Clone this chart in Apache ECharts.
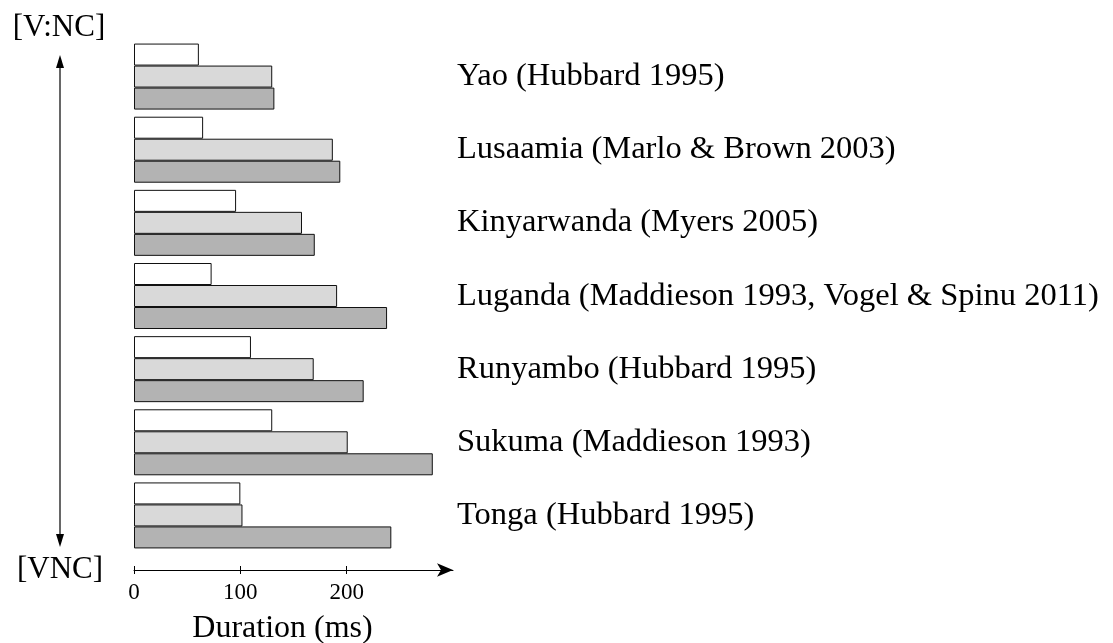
<!DOCTYPE html>
<html>
<head>
<meta charset="utf-8">
<script src="https://cdn.jsdelivr.net/npm/echarts@6/dist/echarts.min.js"></script>
<style>
  html, body { margin: 0; padding: 0; background: #fff; }
  #chart { width: 1113px; height: 643px; }
</style>
</head>
<body>
<div id="chart"></div>
<script>
const languages = [
  'Yao (Hubbard 1995)',
  'Lusaamia (Marlo & Brown 2003)',
  'Kinyarwanda (Myers 2005)',
  'Luganda (Maddieson 1993, Vogel & Spinu 2011)',
  'Runyambo (Hubbard 1995)',
  'Sukuma (Maddieson 1993)',
  'Tonga (Hubbard 1995)'
];
// durations in ms, three bars per language (top to bottom)
const shortBar = [61, 65, 96, 73, 110, 130, 100];
const midBar = [130, 187, 158, 191, 169, 201, 102];
const longBar = [132, 194, 170, 238, 216, 281, 242];
const tickValues = [0, 100, 200];

const font = "'Liberation Serif', 'Times New Roman', serif";

const myChart = echarts.init(document.getElementById('chart'));

function barSeries(name, data, color) {
  return {
    name: name,
    type: 'bar',
    data: data,
    barWidth: 22,
    barGap: '0%',
    itemStyle: { color: color, borderColor: '#111', borderWidth: 1 },
    silent: true
  };
}

const option = {
  backgroundColor: '#fff',
  animation: false,
  grid: { left: 134, right: 660, top: 40, height: 512, outerBoundsMode: 'none', containLabel: false },
  xAxis: [{
    type: 'value',
    min: 0,
    max: 300,
    interval: 100,
    offset: 18,
    splitLine: { show: false },
    axisLine: {
      show: true,
      lineStyle: { color: '#000', width: 1 },
      symbol: ['none', 'arrow'],
      symbolSize: [10, 16]
    },
    axisTick: { show: true, length: 4, customValues: tickValues, lineStyle: { color: '#000' } },
    axisLabel: {
      customValues: tickValues,
      color: '#000',
      fontFamily: font,
      fontSize: 23,
      margin: 11
    },
    name: 'Duration (ms)',
    nameLocation: 'middle',
    nameGap: 43,
    nameTextStyle: { color: '#000', fontFamily: font, fontSize: 32, padding: [0, 22, 0, 0] }
  }, {
    type: 'value',
    min: 0,
    max: 300,
    interval: 100,
    offset: 18,
    position: 'bottom',
    splitLine: { show: false },
    axisLine: { show: false },
    axisTick: { show: true, inside: true, length: 4, customValues: tickValues, lineStyle: { color: '#000' } },
    axisLabel: { show: false }
  }],
  yAxis: {
    type: 'category',
    data: languages,
    inverse: true,
    position: 'right',
    axisLine: { show: false },
    axisTick: { show: false },
    splitLine: { show: false },
    axisLabel: {
      color: '#000',
      fontFamily: font,
      fontSize: 32.5,
      margin: 4
    }
  },
  series: [
    barSeries('short', shortBar, '#ffffff'),
    barSeries('mid', midBar, '#d9d9d9'),
    barSeries('long', longBar, '#b3b3b3')
  ],
  graphic: [
    { type: 'line', shape: { x1: 60, y1: 62, x2: 60, y2: 540 }, style: { stroke: '#000', lineWidth: 1.2 } },
    { type: 'polygon', shape: { points: [[60, 55], [56, 68], [64, 68]] }, style: { fill: '#000' } },
    { type: 'polygon', shape: { points: [[60, 547], [56, 534], [64, 534]] }, style: { fill: '#000' } },
    { type: 'text', x: 59, y: 28, style: { text: '[V:NC]', font: '31px ' + font, fill: '#000', align: 'center', verticalAlign: 'middle' } },
    { type: 'text', x: 60, y: 570, style: { text: '[VNC]', font: '31px ' + font, fill: '#000', align: 'center', verticalAlign: 'middle' } }
  ]
};

myChart.setOption(option);
window.addEventListener('resize', function () {
  myChart.resize();
});
</script>
</body>
</html>
